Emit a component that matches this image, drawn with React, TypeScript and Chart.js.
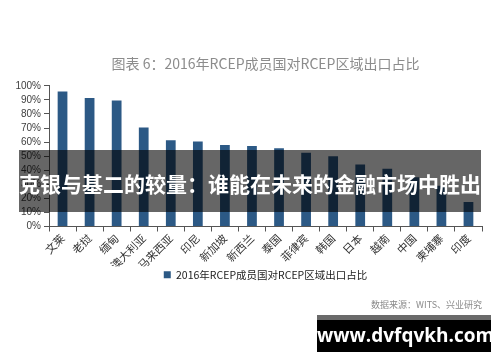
import React, { useEffect, useRef } from "react";
import { Chart, registerables } from "chart.js";

Chart.register(...registerables);

const categories = ["文莱", "老挝", "缅甸", "澳大利亚", "马来西亚", "印尼", "新加坡", "新西兰", "泰国", "菲律宾", "韩国", "日本", "越南", "中国", "柬埔寨", "印度"];
const exportShare = [96, 91.4, 89.5, 70.3, 61.3, 60.5, 58, 57.2, 55.6, 52.4, 50, 44, 41, 35, 29, 17.4];
const yTicks = [0, 10, 20, 30, 40, 50, 60, 70, 80, 90, 100];
const titleText = "图表 6：2016年RCEP成员国对RCEP区域出口占比";
const legendLabel = "2016年RCEP成员国对RCEP区域出口占比";
const sourceText = "数据来源：WITS、兴业研究";
const bannerText = "克银与基二的较量：谁能在未来的金融市场中胜出";
const watermarkText = "www.dvfqvkh.com";

const CJK = '"Noto Sans CJK SC", "Noto Sans", sans-serif';

export default function App() {
  const ref = useRef<HTMLCanvasElement | null>(null);

  useEffect(() => {
    if (!ref.current) return;
    const chart = new Chart(ref.current, {
      type: "bar",
      data: {
        labels: categories,
        datasets: [
          {
            label: legendLabel,
            data: exportShare,
            backgroundColor: "#2c5985",
            barPercentage: 0.36,
            categoryPercentage: 1,
          },
        ],
      },
      options: {
        responsive: false,
        animation: false,
        layout: { padding: { left: 0, right: 18, top: 0, bottom: 72 } },
        plugins: {
          title: {
            display: true,
            text: titleText,
            color: "#8c8c8c",
            fullSize: false,
            font: { family: CJK, size: 14, weight: "normal" },
            padding: { top: 55, bottom: 14 },
          },
          legend: {
            position: "bottom",
            fullSize: false,
            labels: {
              boxWidth: 7,
              boxHeight: 7,
              padding: 3,
              color: "#222",
              font: { family: CJK, size: 10.5 },
            },
          },
          tooltip: { enabled: false },
        },
        scales: {
          x: {
            grid: { display: true, drawOnChartArea: false, tickLength: 5, color: "#555" },
            border: { color: "#555" },
            ticks: {
              minRotation: 45,
              maxRotation: 45,
              autoSkip: false,
              padding: 0,
              color: "#333",
              font: { family: CJK, size: 11 },
            },
            afterFit: (s: any) => {
              s.height = 40;
            },
          },
          y: {
            min: 0,
            max: 100,
            afterBuildTicks: (s: any) => {
              s.ticks = yTicks.map((v) => ({ value: v }));
            },
            ticks: {
              autoSkip: false,
              callback: (v: any) => v + "%",
              padding: 3,
              color: "#404040",
              font: { family: '"Liberation Sans", Arial, sans-serif', size: 10 },
            },
            grid: { drawOnChartArea: false, tickLength: 5, color: "#555" },
            border: { color: "#555" },
            afterFit: (s: any) => {
              s.width = 49;
            },
          },
        },
      },
    });
    return () => chart.destroy();
  }, []);

  return (
    <div style={{ position: "absolute", left: 0, top: 0, width: 500, height: 362, background: "#fff", overflow: "hidden" }}>
      <canvas ref={ref} width={500} height={362} style={{ display: "block" }} />
      <div
        style={{
          position: "absolute",
          left: 19,
          top: 150,
          width: 462,
          height: 62,
          background: "rgba(0,0,0,0.6)",
          color: "#fff",
          fontFamily: CJK,
          fontWeight: 700,
          fontSize: 21,
          lineHeight: "62px",
          paddingTop: 5,
          boxSizing: "border-box",
          textAlign: "center",
          whiteSpace: "nowrap",
        }}
      >
        <span style={{ position: "relative", top: -3 }}>{bannerText}</span>
      </div>
      <div
        style={{
          position: "absolute",
          right: 18,
          top: 298,
          fontFamily: CJK,
          fontSize: 9,
          color: "#8a8a8a",
          whiteSpace: "nowrap",
        }}
      >
        {sourceText}
      </div>
      <div
        style={{
          position: "absolute",
          left: 317,
          top: 315,
          width: 174,
          height: 37,
          boxSizing: "border-box",
          borderTop: "5px solid #6a6a6a",
          background: "#000",
          color: "#fff",
          fontFamily: '"Open Sans", "Noto Sans", sans-serif',
          fontWeight: 700,
          fontSize: 19,
          lineHeight: "31px",
          textAlign: "center",
          whiteSpace: "nowrap",
        }}
      >
        {watermarkText}
      </div>
    </div>
  );
}
